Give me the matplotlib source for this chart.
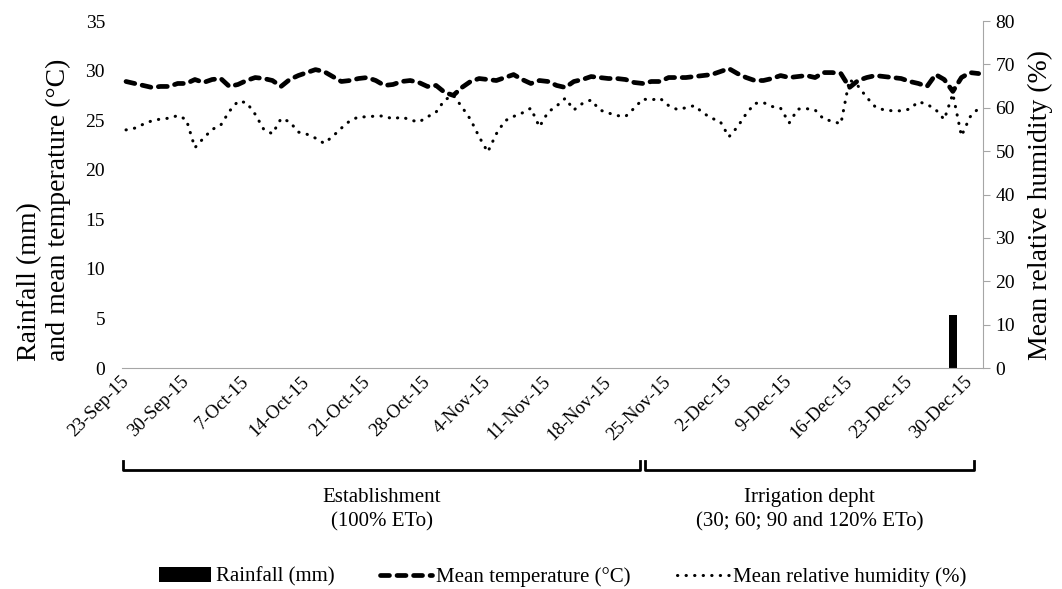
import numpy as np
import matplotlib.pyplot as plt
from matplotlib.transforms import blended_transform_factory
from matplotlib.patches import Patch
from matplotlib.lines import Line2D

plt.rcParams['font.family'] = ['Liberation Serif', 'DejaVu Serif']

# daily series, 23-Sep-15 .. 31-Dec-15
temp = [
    28.9, 28.7, 28.5, 28.3, 28.4, 28.4, 28.7, 28.7, 29.1, 28.8,
    29.1, 29.2, 28.4, 28.6, 29.0, 29.3, 29.2, 29.0, 28.4, 29.1,
    29.5, 29.8, 30.1, 29.9, 29.4, 28.9, 29.0, 29.2, 29.3, 29.0,
    28.5, 28.6, 28.9, 29.0, 28.8, 28.4, 28.5, 27.8, 27.5, 28.3,
    28.9, 29.2, 29.1, 29.0, 29.3, 29.6, 29.1, 28.7, 29.0, 28.9,
    28.5, 28.3, 28.9, 29.1, 29.4, 29.3, 29.2, 29.2, 29.1, 28.8,
    28.7, 28.9, 28.9, 29.3, 29.3, 29.3, 29.4, 29.5, 29.6, 29.9,
    30.2, 29.7, 29.3, 29.0, 29.0, 29.2, 29.5, 29.3, 29.4, 29.5,
    29.3, 29.8, 29.8, 29.7, 28.3, 29.0, 29.3, 29.5, 29.4, 29.3,
    29.2, 28.9, 28.7, 28.4, 29.6, 29.1, 27.9, 29.3, 29.8, 29.7,
]
hum = [
    54.9, 55.3, 56.2, 57.0, 57.4, 57.6, 58.2, 57.3, 50.8, 53.0,
    55.0, 56.0, 59.2, 61.5, 61.2, 58.5, 55.0, 54.0, 57.5, 56.8,
    54.4, 53.9, 53.0, 51.8, 53.4, 55.3, 57.0, 57.9, 57.9, 58.1,
    58.1, 57.4, 57.9, 57.2, 56.7, 57.9, 59.0, 61.8, 62.9, 60.2,
    57.3, 53.3, 49.8, 54.0, 57.0, 58.0, 58.8, 59.9, 55.6, 59.0,
    60.4, 62.2, 59.5, 61.0, 61.8, 59.5, 58.8, 58.2, 58.0, 59.9,
    62.0, 61.8, 62.2, 60.5, 59.6, 60.0, 60.5, 58.8, 57.6, 56.8,
    53.3, 55.6, 58.6, 61.0, 61.2, 60.3, 59.9, 56.5, 59.7, 59.8,
    59.5, 57.4, 56.9, 56.3, 66.5, 65.0, 62.4, 60.2, 59.5, 59.3,
    59.3, 59.7, 61.4, 60.8, 59.6, 57.3, 63.2, 53.5, 57.9, 59.9,
]
rain = [
    0, 0, 0, 0, 0, 0, 0, 0, 0, 0,
    0, 0, 0, 0, 0, 0, 0, 0, 0, 0,
    0, 0, 0, 0, 0, 0, 0, 0, 0, 0,
    0, 0, 0, 0, 0, 0, 0, 0, 0, 0,
    0, 0, 0, 0, 0, 0, 0, 0, 0, 0,
    0, 0, 0, 0, 0, 0, 0, 0, 0, 0,
    0, 0, 0, 0, 0, 0, 0, 0, 0, 0,
    0, 0, 0, 0, 0, 0, 0, 0, 0, 0,
    0, 0, 0, 0, 0, 0, 0, 0, 0, 0,
    0, 0, 0, 0, 0, 0, 5.3, 0, 0, 0,
]
tick_labels = ['23-Sep-15', '30-Sep-15', '7-Oct-15', '14-Oct-15', '21-Oct-15',
               '28-Oct-15', '4-Nov-15', '11-Nov-15', '18-Nov-15', '25-Nov-15',
               '2-Dec-15', '9-Dec-15', '16-Dec-15', '23-Dec-15', '30-Dec-15']
phase_names = ['Establishment\n(100% ETo)',
               'Irrigation depht\n(30; 60; 90 and 120% ETo)']
phase_start = [-0.3, 60.3]
phase_end = [59.7, 98.4]

days = np.arange(len(temp))
temp_style = dict(color='black', lw=3.4, ls=(0, (1.9, 1.6)), dash_capstyle='round')
hum_style = dict(color='black', lw=2.2, ls=(0, (0.1, 2.7)), dash_capstyle='round')

fig = plt.figure(figsize=(10.62, 5.89), dpi=100)
ax = fig.add_axes([0.1146, 0.3752, 0.8110, 0.5891])
ax2 = ax.twinx()

ax.bar(days, rain, width=1.0, color='black', zorder=2)
ax.plot(days, temp, zorder=3, **temp_style)
ax2.plot(days, hum, **hum_style)

ax.set_xlim(-0.5, 99.5)
ax.set_ylim(0, 35)
ax2.set_ylim(0, 80)
ax.set_yticks(range(0, 36, 5))
ax2.set_yticks(range(0, 81, 10))
ax.set_xticks(np.arange(len(tick_labels)) * 7)
ax.set_xticklabels(tick_labels, rotation=45, ha='right', va='center',
                   rotation_mode='anchor')

grey = '#a6a6a6'
for s in ['top', 'left', 'right']:
    ax.spines[s].set_visible(False)
for s in ['top', 'left', 'bottom']:
    ax2.spines[s].set_visible(False)
ax.spines['bottom'].set_color(grey)
ax2.spines['right'].set_color(grey)
ax.tick_params(axis='y', length=0, pad=12, labelsize=14)
ax.tick_params(axis='x', length=0, pad=8, labelsize=13.5)
ax2.tick_params(axis='y', length=5, color=grey, pad=4, labelsize=14)

# phase brackets below the dates
trans = blended_transform_factory(ax.transData, fig.transFigure)
for name, a, b in zip(phase_names, phase_start, phase_end):
    ax.plot([a, a, b, b], [0.2173, 0.2020, 0.2020, 0.2173], transform=trans,
            clip_on=False, color='black', lw=2)
    ax.text((a + b) / 2, 0.134, name, transform=trans, ha='center', va='center',
            fontsize=15, linespacing=1.38)

fig.text(0.0414, 0.6435, 'Rainfall (mm)\nand mean temperature (°C)', rotation=90,
         ha='center', va='center', multialignment='left', fontsize=20)
fig.text(0.980, 0.652, 'Mean relative humidity (%)', rotation=90,
         ha='center', va='center', fontsize=20)

handles = [Patch(facecolor='black'), Line2D([], [], **temp_style),
           Line2D([], [], **hum_style)]
labels = ['Rainfall (mm)', 'Mean temperature (°C)', 'Mean relative humidity (%)']
fig.legend(handles, labels, loc='center', bbox_to_anchor=(0.53, 0.0204), ncol=3,
           frameon=False, fontsize=15, handlelength=2.5, handletextpad=0.2,
           columnspacing=2.2)

fig.savefig('out.png', dpi=100)
